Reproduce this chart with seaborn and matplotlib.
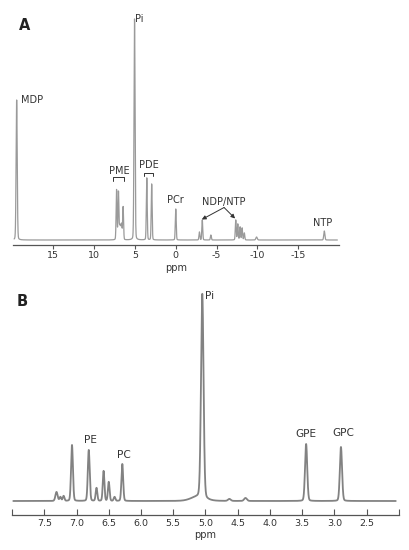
import numpy as np
import pandas as pd
import matplotlib
matplotlib.use("Agg")
import matplotlib.pyplot as plt
import seaborn as sns

# ---------------- data ----------------
# Panel A: full 31P spectrum, peak positions (ppm), heights (a.u.), FWHM (ppm)
a_ppm    = [19.49, 5.05, 7.25, 7.02, 6.86, 6.74, 6.63, 6.45, 3.55, 2.95, 0.00,
            -2.90, -3.25, -4.30, -7.35, -7.60, -7.88, -8.13, -8.40, -9.90, -18.20]
a_height = [140, 221, 50, 48, 13, 11, 14, 33, 62, 56, 31,
            8, 20, 5, 20, 16, 13, 12, 7, 3, 9]
a_fwhm   = [0.16, 0.15, 0.13, 0.13, 0.13, 0.13, 0.13, 0.13, 0.13, 0.13, 0.13,
            0.13, 0.13, 0.13, 0.13, 0.13, 0.13, 0.13, 0.13, 0.2, 0.16]
a_ticks  = [15, 10, 5, 0, -5, -10, -15]
a_ticklabels = ["15", "10", "5", "0", "-5", "-10", "-15"]

# Panel B: expanded 8-2 ppm region
b_ppm    = [5.05, 5.12, 7.07, 6.81, 6.69, 6.58, 6.50, 6.41, 6.29, 7.31, 7.25, 7.20,
            3.44, 2.90, 4.63, 4.38]
b_height = [204, 4, 56, 51, 13, 30, 19, 4, 37, 9, 4, 5, 57, 54, 2, 3]
b_fwhm   = [0.046, 0.25, 0.034, 0.034, 0.03, 0.03, 0.03, 0.03, 0.032, 0.04,
            0.03, 0.03, 0.04, 0.04, 0.05, 0.05]
b_ticks  = [8.0, 7.5, 7.0, 6.5, 6.0, 5.5, 5.0, 4.5, 4.0, 3.5, 3.0, 2.5, 2.0]
b_ticklabels = ["", "7.5", "7.0", "6.5", "6.0", "5.5", "5.0", "4.5", "4.0",
                "3.5", "3.0", "2.5", ""]

# peak labels
a_labels   = ["MDP", "Pi", "PCr", "NTP"]
a_label_x  = [18.9, 4.95, 0.0, -18.0]
a_label_y  = [140, 221, 40, 17]
a_label_ha = ["left", "left", "center", "center"]
a_brackets = {"PME": (7.65, 6.30, 59, 63, 68.5), "PDE": (3.85, 2.82, 64, 67.5, 75)}
ndp_text = ("NDP/NTP", -5.85, 38.5)
ndp_arrow_start = (-5.92, 32.5)
ndp_arrow_ends = [(-3.19, 20.5), (-7.27, 21.5)]

b_labels   = ["Pi", "PE", "PC", "GPE", "GPC"]
b_label_x  = [5.0, 6.79, 6.27, 3.45, 2.86]
b_label_y  = [205, 61, 46, 67, 68]
b_label_ha = ["left", "center", "center", "center", "center"]

LORENTZ_FRACTION = 0.12   # pseudo-Voigt line shape


def line_sum(grid, pos, h, w, eta=LORENTZ_FRACTION):
    g = np.asarray(grid)[:, None]
    p = np.asarray(pos)[None, :]
    hw = np.asarray(w)[None, :] / 2.0
    lor = 1 / (1 + ((g - p) / hw) ** 2)
    gau = np.exp(-np.log(2) * ((g - p) / hw) ** 2)
    return (np.asarray(h)[None, :] * (eta * lor + (1 - eta) * gau)).sum(axis=1)


grid_a = np.linspace(19.8, -19.8, 12000)
grid_b = np.linspace(7.98, 2.05, 8000)
df_a = pd.DataFrame({"ppm": grid_a, "intensity": line_sum(grid_a, a_ppm, a_height, a_fwhm)})
df_b = pd.DataFrame({"ppm": grid_b, "intensity": line_sum(grid_b, b_ppm, b_height, b_fwhm)})

# ---------------- figure ----------------
sns.set_theme(style="white")
plt.rcParams["font.family"] = ["DejaVu Sans"]
plt.rcParams["axes.unicode_minus"] = False

W, H = 410, 550
fig = plt.figure(figsize=(4.1, 5.5), dpi=100)
fig.patch.set_facecolor("white")
axA = fig.add_axes([12.5 / W, 1 - 245 / H, (339 - 12.5) / W, (245 - 8) / H])
axB = fig.add_axes([12 / W, 1 - 514.5 / H, (399 - 12) / W, (514.5 - 285) / H])

txt = "#333333"
spine = "#555555"

sns.lineplot(data=df_a, x="ppm", y="intensity", ax=axA, color="#9a9a9a",
             linewidth=0.9, estimator=None, sort=False)
sns.lineplot(data=df_b, x="ppm", y="intensity", ax=axB, color="#828282",
             linewidth=1.3, estimator=None, sort=False)

for ax in (axA, axB):
    for s in ("left", "right", "top"):
        ax.spines[s].set_visible(False)
    ax.spines["bottom"].set_color(spine)
    ax.spines["bottom"].set_linewidth(0.9)
    ax.set_yticks([])
    ax.set_ylabel("")
    ax.set_facecolor("white")

axA.set_xlim(20, -20)
axA.set_ylim(-5, 232)
axA.set_xticks(a_ticks)
axA.set_xticklabels(a_ticklabels)
axA.tick_params(axis="x", direction="out", length=3, width=0.8, color=spine,
                labelsize=6.8, labelcolor=txt, pad=1.5, bottom=True)
axA.set_xlabel("ppm", fontsize=7, color=txt, labelpad=2)

axB.set_xlim(8.0, 2.0)
axB.set_ylim(-13.5, 216)
axB.set_xticks(b_ticks)
axB.set_xticklabels(b_ticklabels)
axB.tick_params(axis="x", direction="in", length=4, width=0.8, color=spine,
                labelsize=6.8, labelcolor=txt, pad=3, bottom=True)
axB.set_xlabel("ppm", fontsize=7, color=txt, labelpad=2)

# annotations A
for lab, x, y, ha in zip(a_labels, a_label_x, a_label_y, a_label_ha):
    axA.text(x, y, lab, ha=ha, va="center", fontsize=7, color=txt)
for lab, (x1, x2, y0, y1, ty) in a_brackets.items():
    axA.plot([x1, x1, x2, x2], [y0, y1, y1, y0], color=txt, lw=0.7)
    axA.text((x1 + x2) / 2, ty, lab, ha="center", va="center", fontsize=7, color=txt)
axA.text(ndp_text[1], ndp_text[2], ndp_text[0], ha="center", va="center", fontsize=7, color=txt)
for end in ndp_arrow_ends:
    axA.annotate("", xy=end, xytext=ndp_arrow_start,
                 arrowprops=dict(arrowstyle="-|>", color=txt, lw=0.7,
                                 mutation_scale=6, shrinkA=0, shrinkB=0))

# annotations B
for lab, x, y, ha in zip(b_labels, b_label_x, b_label_y, b_label_ha):
    axB.text(x, y, lab, ha=ha, va="center", fontsize=7.6, color=txt)

fig.text(19 / W, 1 - 25 / H, "A", fontsize=10.5, fontweight="bold", color="#222222",
         ha="left", va="center")
fig.text(17 / W, 1 - 301 / H, "B", fontsize=10.5, fontweight="bold", color="#222222",
         ha="left", va="center")

fig.savefig("out.png", dpi=100, facecolor="white")
